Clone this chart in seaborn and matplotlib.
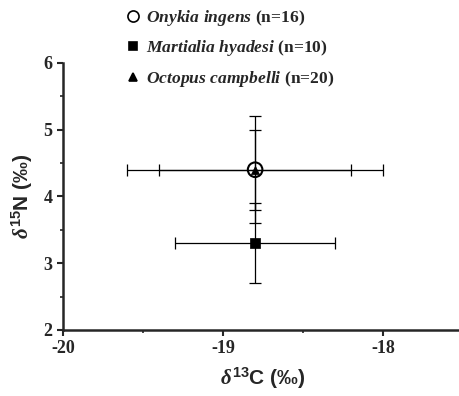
import matplotlib
matplotlib.use("Agg")
import matplotlib.pyplot as plt
import seaborn as sns
import pandas as pd
from matplotlib.ticker import MultipleLocator

# === Data ===
species = ["Onykia ingens", "Martialia hyadesi", "Octopus campbelli"]
n_samples = [16, 10, 20]
d13c_mean = [-18.8, -18.8, -18.8]
d13c_sd = [0.8, 0.5, 0.6]
d15n_mean = [4.4, 3.3, 4.4]
d15n_sd = [0.8, 0.6, 0.6]

df = pd.DataFrame({"species": species, "n": n_samples,
                   "d13C": d13c_mean, "d13C_sd": d13c_sd,
                   "d15N": d15n_mean, "d15N_sd": d15n_sd})

# === Style ===
sns.set_style("ticks")
plt.rcParams["font.family"] = ["Liberation Serif", "DejaVu Serif"]
plt.rcParams["axes.unicode_minus"] = False
plt.rcParams["mathtext.fontset"] = "custom"
plt.rcParams["mathtext.it"] = "Liberation Serif:italic:bold"
plt.rcParams["mathtext.rm"] = "Liberation Sans:bold"

fig = plt.figure(figsize=(4.6, 3.96), dpi=100)
ax = fig.add_axes([0.137, 0.167, 0.87, 0.674])

markers = {"Onykia ingens": "o", "Martialia hyadesi": "s", "Octopus campbelli": "^"}
sizes = {"Onykia ingens": 110, "Martialia hyadesi": 45, "Octopus campbelli": 35}
faces = {"Onykia ingens": "none", "Martialia hyadesi": "black", "Octopus campbelli": "black"}

# error bars first
for _, r in df.iterrows():
    ax.errorbar(r["d13C"], r["d15N"], xerr=r["d13C_sd"], yerr=r["d15N_sd"],
                fmt="none", ecolor="black", elinewidth=0.9, capsize=4.5,
                capthick=0.9, zorder=1)

handles = []
for sp, n in zip(species, n_samples):
    sub = df[df["species"] == sp]
    sns.scatterplot(data=sub, x="d13C", y="d15N", marker=markers[sp],
                    s=sizes[sp], facecolor=faces[sp], edgecolor="black",
                    linewidth=1.5 if sp == "Onykia ingens" else 0.5,
                    ax=ax, zorder=3, legend=False)
    name = sp.replace(" ", r"\ ")
    handles.append(plt.Line2D([], [], ls="none", marker=markers[sp],
                              markersize=8 if sp == "Onykia ingens" else 6,
                              markerfacecolor="white" if sp == "Onykia ingens" else "black",
                              markeredgecolor="black", markeredgewidth=1.2,
                              label=rf"$\it{{{name}}}$ (n={n})"))

fig.legend(handles=handles, loc="upper left", bbox_to_anchor=(0.232, 1.02),
           frameon=False, prop={"weight": "bold", "size": 12.6},
           handletextpad=0.15, labelspacing=0.6, handlelength=1.2)

ax.set_xlim(-20, -17.5)
ax.set_ylim(2, 6)
ax.set_xticks([-20, -19, -18])
ax.set_yticks([2, 3, 4, 5, 6])
ax.xaxis.set_minor_locator(MultipleLocator(0.5))
ax.yaxis.set_minor_locator(MultipleLocator(0.5))
ax.tick_params(which="major", length=4, width=1.5, labelsize=13)
ax.tick_params(which="minor", length=2.5, width=1.2)
for lab in ax.get_xticklabels() + ax.get_yticklabels():
    lab.set_fontweight("bold")
for s in ["left", "bottom"]:
    ax.spines[s].set_linewidth(1.8)
sns.despine(ax=ax)

lab_font = {"family": ["Liberation Sans", "DejaVu Sans"], "weight": "bold", "size": 15}
ax.set_xlabel(r"$\delta^{13}$C (‰)", fontdict=lab_font, labelpad=6)
ax.set_ylabel(r"$\delta^{15}$N (‰)", fontdict=lab_font, labelpad=6)

fig.savefig("out.png", dpi=100)
